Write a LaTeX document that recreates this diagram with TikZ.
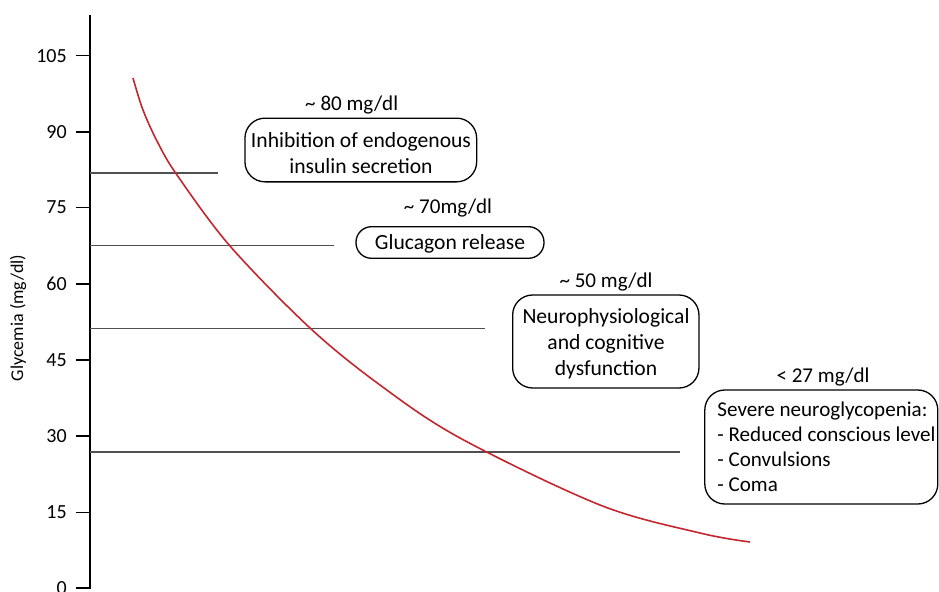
\documentclass[tikz,border=0pt]{standalone}
\usepackage{fontspec}
\setmainfont{Carlito}
\newlength\pxu
\setlength\pxu{0.75pt}
\definecolor{curvered}{RGB}{196,38,46}
\definecolor{levelgray}{RGB}{80,80,80}
\tikzset{
  axisline/.style={line width=1.6\pxu, black},
  levelline/.style={line width=1.1\pxu, levelgray},
  curveline/.style={line width=1.6\pxu, curvered},
  infobox/.style={draw, line width=1.3\pxu, inner sep=0pt},
  boxtext/.style={inner sep=0pt, align=center, font=\fontsize{16.2}{19.5}\selectfont},
  levellabel/.style={inner sep=0pt, font=\fontsize{15.8}{17}\selectfont},
  ticklabel/.style={inner sep=0pt, anchor=east, font=\fontsize{15}{16}\selectfont},
}
\begin{document}
\begin{tikzpicture}[x=0.75pt,y=-0.75pt]
\useasboundingbox (0,0) rectangle (939,592);
% axis
\coordinate (axtop) at (90,15);
\coordinate (axbot) at (90,589);
\draw[axisline] (axtop) -- (axbot);
\foreach \v/\yy in {0/588,15/512.3,30/435.7,45/360,60/284,75/207.3,90/131.7,105/55.7}{
  \coordinate (tk\v) at (76,\yy);
  \coordinate (ta\v) at (90,\yy);
  \draw[axisline] (tk\v) -- (ta\v);
  \node[ticklabel] (tl\v) at (67,\yy) {\v};
}
\node[rotate=90, inner sep=0pt, font=\fontsize{13.5}{16}\selectfont] (ytitle) at (18,318) {Glycemia (mg/dl)};
% level lines
\coordinate (l1a) at (90,173);   \coordinate (l1b) at (218,173);
\coordinate (l2a) at (90,245.7); \coordinate (l2b) at (334,245.7);
\coordinate (l3a) at (90,328.3); \coordinate (l3b) at (485,328.3);
\coordinate (l4a) at (90,452);   \coordinate (l4b) at (680,452);
\draw[levelline] (l1a) -- (l1b);
\draw[levelline] (l2a) -- (l2b);
\draw[levelline] (l3a) -- (l3b);
\draw[levelline] (l4a) -- (l4b);
% curve
\draw[curveline] plot[smooth, tension=0.55] coordinates {(133,78) (143,110) (158,143) (177,175) (230,246) (310,328) (380,385) (460,438) (600,505) (700,533) (750,542)};
% boxes
\node[infobox, minimum width=231.7\pxu, minimum height=63.7\pxu, rounded corners=20\pxu] (b1) at (360.8,150) {};
\node[boxtext] (b1t) at (361,153) {Inhibition of endogenous\\insulin secretion};
\node[levellabel] (lab1) at (351.7,105) {\textasciitilde{} 80 mg/dl};
\node[infobox, minimum width=188\pxu, minimum height=31.6\pxu, rounded corners=15.5\pxu] (b2) at (450,242.5) {};
\node[boxtext] (b2t) at (450,243.5) {Glucagon release};
\node[levellabel] (lab2) at (448,208) {\textasciitilde{} 70mg/dl};
\node[infobox, minimum width=186.3\pxu, minimum height=93\pxu, rounded corners=20\pxu] (b3) at (605.8,341.5) {};
\node[boxtext] (b3t) at (606,344) {Neurophysiological\\and cognitive\\dysfunction};
\node[levellabel] (lab3) at (606,281.7) {\textasciitilde{} 50 mg/dl};
\node[infobox, minimum width=233\pxu, minimum height=114\pxu, rounded corners=20\pxu] (b4) at (821.3,447) {};
\node[anchor=west, inner sep=0pt, align=left, font=\fontsize{15.8}{18.75}\selectfont] (b4t) at ([xshift=13\pxu]b4.west)
  {Severe neuroglycopenia:\\- Reduced conscious level\\- Convulsions\\- Coma};
\node[levellabel] (lab4) at (823,376.7) {< 27 mg/dl};
\end{tikzpicture}
\end{document}
